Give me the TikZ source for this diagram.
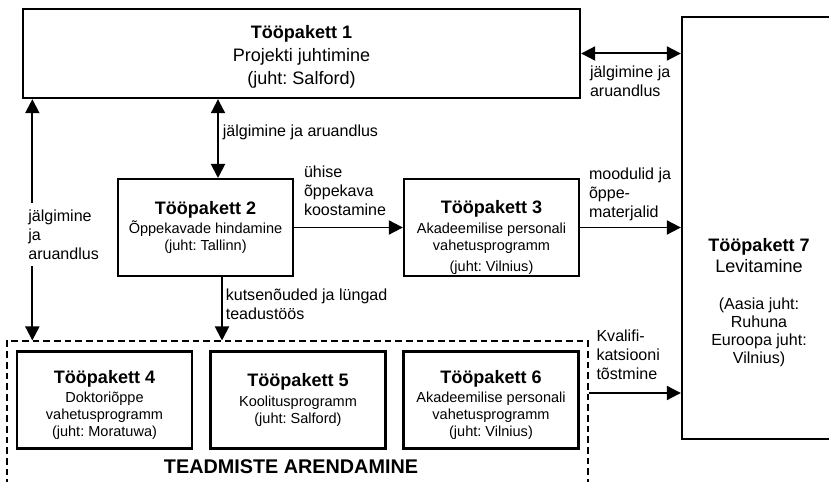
\documentclass[tikz,border=0pt]{standalone}
\usepackage{fontspec}
\setmainfont{Liberation Sans}
\usepackage{tikz}
\usetikzlibrary{arrows.meta}
\tikzset{>={Triangle[length=0.42cm,width=0.42cm]}}
\tikzset{pakett/.style={draw, line width=2pt, align=center, inner sep=0pt, minimum width=5.25cm, minimum height=2.9cm, font=\fontsize{12.4}{14.5}\selectfont}}
\tikzset{nool/.style={line width=1.7pt}}
\tikzset{silt/.style={align=left, inner sep=1pt, font=\fontsize{13.7}{16.2}\selectfont}}
\newcommand{\pealkiri}[1]{{\fontsize{15.4}{17}\selectfont\bfseries #1}}
\newcommand{\tugi}[1]{\rule{0pt}{#1}}

\begin{document}
\frenchspacing
\begin{tikzpicture}
    \useasboundingbox (0,0) rectangle (24.87,14.46);

    % tööpaketid (\tugi lükkab teksti kastis allapoole)
    \node[pakett, minimum width=16.71cm, minimum height=2.67cm, font=\fontsize{15.4}{19.6}\selectfont] at (9.045,12.855) (tp1) {\tugi{0.57cm}\textbf{Tööpakett 1}\\Projekti juhtimine\\(juht: Salford)};
    \node[pakett] at (6.165,7.635) (tp2) {\pealkiri{Tööpakett 2}\\[2.5pt]Õppekavade hindamine\\(juht: Tallinn)};
    \node[pakett] at (14.745,7.635) (tp3) {\tugi{0.99cm}\pealkiri{Tööpakett 3}\\[2.5pt]Akadeemilise personali\\vahetusprogramm\\[3pt](juht: Vilnius)};
    \node[pakett] at (3.135,2.46) (tp4) {\tugi{0.69cm}\pealkiri{Tööpakett 4}\\[2.5pt]Doktoriõppe\\vahetusprogramm\\(juht: Moratuwa)};
    \node[pakett] at (8.94,2.46) (tp5) {\pealkiri{Tööpakett 5}\\[2pt]Koolitusprogramm\\(juht: Salford)};
    \node[pakett] at (14.73,2.46) (tp6) {\tugi{0.69cm}\pealkiri{Tööpakett 6}\\[2.5pt]Akadeemilise personali\\vahetusprogramm\\(juht: Vilnius)};
    \node[pakett, minimum width=4.62cm, minimum height=12.66cm] at (22.77,7.62) (tp7) {};
    \node[align=center, font=\fontsize{13.7}{15.4}\selectfont] at (22.77,5.38) (tp7tekst) {\pealkiri{Tööpakett 7}\\[2.5pt]{\fontsize{15.4}{17}\selectfont Levitamine}\\[16pt](Aasia juht:\\Ruhuna\\Euroopa juht:\\Vilnius)};

    % teadmiste arendamine (tp4--tp6)
    \node[draw, line width=0.9pt, dash pattern=on 0.2cm off 0.12cm, inner sep=0pt, minimum width=17.43cm, minimum height=4.83cm] at (8.925,1.815) (teadmised) {};
    \node[font=\fontsize{16.9}{19}\selectfont\bfseries] at (8.73,0.45) (arendamine) {TEADMISTE ARENDAMINE};

    \coordinate (vasak) at (0.97,0);
    \coordinate (jx) at ([xshift=0.375cm]tp2.north);
    \coordinate (kx) at ([xshift=0.495cm]tp2.south);
    \coordinate (kv) at (0,2.67);

    \draw[nool, <->] (tp1.east) -- (tp1.east -| tp7.west) node[silt, pos=0, anchor=north west, xshift=0.2cm, yshift=-0.3cm] {jälgimine ja\\aruandlus};
    \draw[nool, <->] (jx |- tp1.south) -- (jx) node[silt, pos=0.42, anchor=west, xshift=0.08cm] {jälgimine ja aruandlus};
    \draw[nool, ->] (tp2.east) -- (tp3.west) node[silt, pos=0, anchor=south west, xshift=0.23cm, yshift=0.28cm] {ühise\\õppekava\\koostamine};
    \draw[nool, ->] (tp3.east) -- (tp3.east -| tp7.west) node[silt, pos=0, anchor=south west, xshift=0.2cm, yshift=0.14cm] {moodulid ja\\õppe-\\materjalid};
    \draw[nool, <->] (tp1.south -| vasak) -- (teadmised.north -| vasak) node[silt, pos=0.56, anchor=west, fill=white, inner ysep=0.2cm, xshift=-0.185cm] {jälgimine\\ja\\aruandlus};
    \draw[nool, ->] (kx) -- (kx |- teadmised.north) node[silt, pos=0.43, anchor=west, xshift=0.05cm] {kutsenõuded ja lüngad\\teadustöös};
    \draw[nool, ->] (teadmised.east |- kv) -- (tp7.west |- kv) node[silt, pos=0, anchor=south west, xshift=0.175cm, yshift=0.35cm] {Kvalifi-\\katsiooni\\tõstmine};
\end{tikzpicture}
\end{document}
